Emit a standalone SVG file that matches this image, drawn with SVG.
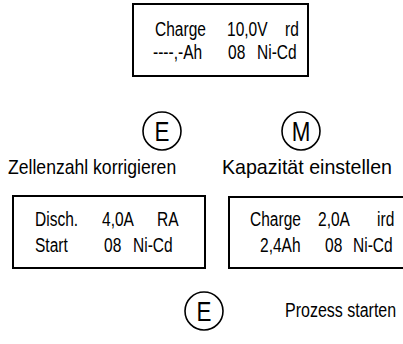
<svg xmlns="http://www.w3.org/2000/svg" width="403" height="344" viewBox="0 0 403 344">
<style>
.box{fill:#fff;stroke:#000;stroke-width:2}
.ring{fill:none;stroke:#000;stroke-width:1.6}
text{font-family:"Liberation Sans",Arial,sans-serif;fill:#000}
.t{font-size:21px}
.lbl{font-size:20px}
.key{font-size:28px;text-anchor:middle}
</style>
<rect width="403" height="344" fill="#fff"/>
<g id="connectors"/>
<g id="display-top">
<rect class="box" x="133" y="4" width="175" height="72"/>
<text class="t" transform="translate(155,36) scale(0.74,1)">Charge</text>
<text class="t" transform="translate(227,36) scale(0.74,1)">10,0V</text>
<text class="t" transform="translate(285,36) scale(0.74,1)">rd</text>
<text class="t" transform="translate(153,59) scale(0.74,1)">----,-Ah</text>
<text class="t" transform="translate(228,59) scale(0.74,1)">08</text>
<text class="t" transform="translate(257,59) scale(0.74,1)">Ni-Cd</text>
</g>
<g id="key-e1">
<circle class="ring" cx="162" cy="131" r="19"/>
<text class="key" transform="translate(162,141) scale(0.8,1)">E</text>
</g>
<g id="key-m">
<circle class="ring" cx="301" cy="131" r="19"/>
<text class="key" transform="translate(301,141) scale(0.8,1)">M</text>
</g>
<g id="label-zellen">
<text class="lbl" transform="translate(8,174) scale(0.88,1)">Zellenzahl korrigieren</text>
</g>
<g id="label-kap">
<text class="lbl" transform="translate(222,174) scale(0.98,1)">Kapazität einstellen</text>
</g>
<g id="display-left">
<rect class="box" x="13" y="196" width="192" height="72"/>
<text class="t" transform="translate(35,226) scale(0.74,1)">Disch.</text>
<text class="t" transform="translate(102,226) scale(0.74,1)">4,0A</text>
<text class="t" transform="translate(157,226) scale(0.74,1)">RA</text>
<text class="t" transform="translate(35,252) scale(0.74,1)">Start</text>
<text class="t" transform="translate(104,252) scale(0.74,1)">08</text>
<text class="t" transform="translate(133,252) scale(0.74,1)">Ni-Cd</text>
</g>
<g id="display-right">
<rect class="box" x="229" y="197" width="185" height="71"/>
<text class="t" transform="translate(250,226) scale(0.74,1)">Charge</text>
<text class="t" transform="translate(318,226) scale(0.74,1)">2,0A</text>
<text class="t" transform="translate(377,226) scale(0.74,1)">ird</text>
<text class="t" transform="translate(260,252) scale(0.74,1)">2,4Ah</text>
<text class="t" transform="translate(325,252) scale(0.74,1)">08</text>
<text class="t" transform="translate(353,252) scale(0.74,1)">Ni-Cd</text>
</g>
<g id="key-e2">
<circle class="ring" cx="204" cy="311" r="19"/>
<text class="key" transform="translate(204,321) scale(0.8,1)">E</text>
</g>
<g id="label-start">
<text class="lbl" transform="translate(285,317) scale(0.8,1)">Prozess starten</text>
</g>
</svg>
